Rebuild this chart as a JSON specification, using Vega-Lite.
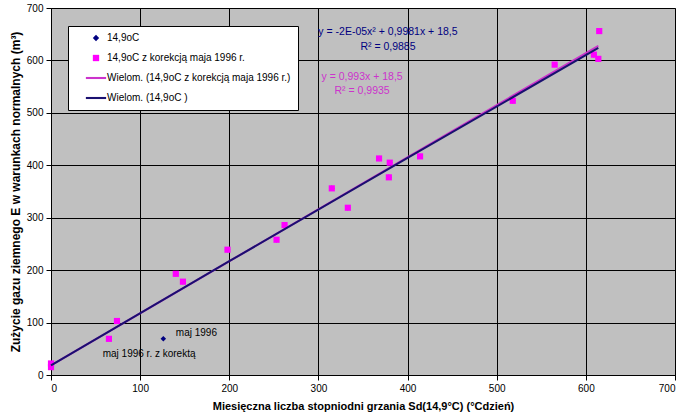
{
  "$schema": "https://vega.github.io/schema/vega-lite/v6.json",
  "autosize": {"type": "none"},
  "width": 624,
  "height": 367,
  "padding": {"left": 51, "top": 8, "right": 11, "bottom": 44},
  "background": "white",
  "datasets": {
    "pts": [
      {"series": "14,9oC", "x": 0, "y": 22},
      {"series": "14,9oC", "x": 0, "y": 15},
      {"series": "14,9oC", "x": 126, "y": 69},
      {"series": "14,9oC", "x": 74, "y": 103},
      {"series": "14,9oC", "x": 140, "y": 193},
      {"series": "14,9oC", "x": 148, "y": 178},
      {"series": "14,9oC", "x": 198, "y": 239},
      {"series": "14,9oC", "x": 253, "y": 258},
      {"series": "14,9oC", "x": 262, "y": 286},
      {"series": "14,9oC", "x": 315, "y": 356},
      {"series": "14,9oC", "x": 333, "y": 319},
      {"series": "14,9oC", "x": 368, "y": 413},
      {"series": "14,9oC", "x": 380, "y": 405},
      {"series": "14,9oC", "x": 379, "y": 377},
      {"series": "14,9oC", "x": 414, "y": 417},
      {"series": "14,9oC", "x": 518, "y": 523},
      {"series": "14,9oC", "x": 565, "y": 592},
      {"series": "14,9oC", "x": 615, "y": 656},
      {"series": "14,9oC", "x": 609, "y": 611},
      {"series": "14,9oC", "x": 614, "y": 603},
      {"series": "14,9oC z korekcją maja 1996 r.", "x": 0, "y": 22},
      {"series": "14,9oC z korekcją maja 1996 r.", "x": 0, "y": 15},
      {"series": "14,9oC z korekcją maja 1996 r.", "x": 65, "y": 69},
      {"series": "14,9oC z korekcją maja 1996 r.", "x": 74, "y": 103},
      {"series": "14,9oC z korekcją maja 1996 r.", "x": 140, "y": 193},
      {"series": "14,9oC z korekcją maja 1996 r.", "x": 148, "y": 178},
      {"series": "14,9oC z korekcją maja 1996 r.", "x": 198, "y": 239},
      {"series": "14,9oC z korekcją maja 1996 r.", "x": 253, "y": 258},
      {"series": "14,9oC z korekcją maja 1996 r.", "x": 262, "y": 286},
      {"series": "14,9oC z korekcją maja 1996 r.", "x": 315, "y": 356},
      {"series": "14,9oC z korekcją maja 1996 r.", "x": 333, "y": 319},
      {"series": "14,9oC z korekcją maja 1996 r.", "x": 368, "y": 413},
      {"series": "14,9oC z korekcją maja 1996 r.", "x": 380, "y": 405},
      {"series": "14,9oC z korekcją maja 1996 r.", "x": 379, "y": 377},
      {"series": "14,9oC z korekcją maja 1996 r.", "x": 414, "y": 417},
      {"series": "14,9oC z korekcją maja 1996 r.", "x": 518, "y": 523},
      {"series": "14,9oC z korekcją maja 1996 r.", "x": 565, "y": 592},
      {"series": "14,9oC z korekcją maja 1996 r.", "x": 615, "y": 656},
      {"series": "14,9oC z korekcją maja 1996 r.", "x": 609, "y": 611},
      {"series": "14,9oC z korekcją maja 1996 r.", "x": 614, "y": 603}
    ],
    "fits": [
      {"series": "Wielom. (14,9oC z korekcją maja 1996 r.)", "x": 0, "y": 18.5},
      {"series": "Wielom. (14,9oC z korekcją maja 1996 r.)", "x": 614, "y": 628},
      {"series": "Wielom. (14,9oC )", "x": 0, "y": 18.5},
      {"series": "Wielom. (14,9oC )", "x": 200, "y": 217},
      {"series": "Wielom. (14,9oC )", "x": 400, "y": 414},
      {"series": "Wielom. (14,9oC )", "x": 614, "y": 624}
    ],
    "notes": [
      {"fit": "navy", "x": 378, "y": 654, "text": "y = -2E-05x² + 0,9981x + 18,5"},
      {"fit": "navy", "x": 378, "y": 626, "text": "R² = 0,9885"},
      {"fit": "magenta", "x": 349, "y": 568, "text": "y = 0,993x + 18,5"},
      {"fit": "magenta", "x": 349, "y": 542, "text": "R² = 0,9935"},
      {"fit": "black", "x": 140, "y": 80, "text": "maj 1996"},
      {"fit": "black", "x": 58, "y": 40, "text": "maj 1996 r. z korektą"}
    ]
  },
  "encoding": {
    "x": {
      "field": "x",
      "type": "quantitative",
      "scale": {"domain": [0, 700], "nice": false, "zero": false},
      "axis": {
        "title": "Miesięczna liczba stopniodni grzania Sd(14,9°C) (°Cdzień)",
        "values": [0, 100, 200, 300, 400, 500, 600, 700],
        "format": "d",
        "titlePadding": 7
      }
    },
    "y": {
      "field": "y",
      "type": "quantitative",
      "scale": {"domain": [0, 700], "nice": false, "zero": false},
      "axis": {
        "title": "Zużycie gazu ziemnego E  w warunkach normalnych (m³)",
        "values": [0, 100, 200, 300, 400, 500, 600, 700],
        "format": "d",
        "titlePadding": 4,
        "titleFontSize": 12
      }
    }
  },
  "layer": [
    {
      "data": {"name": "pts"},
      "transform": [{"filter": "datum.series == '14,9oC'"}],
      "mark": {"type": "point", "filled": true, "opacity": 1, "size": 30},
      "encoding": {
        "color": {
          "field": "series",
          "type": "nominal",
          "scale": {
            "domain": ["14,9oC", "14,9oC z korekcją maja 1996 r.", "Wielom. (14,9oC z korekcją maja 1996 r.)", "Wielom. (14,9oC )"],
            "range": ["#000080", "#FF00FF", "#CC33CC", "#1A1070"]
          },
          "legend": {
            "orient": "none",
            "legendX": 17,
            "legendY": 18,
            "title": null,
            "fillColor": "white",
            "strokeColor": "black",
            "padding": 7,
            "rowPadding": 10,
            "symbolOffset": 16,
            "symbolSize": 40,
            "symbolStrokeWidth": 0,
            "labelFont": "Liberation Sans",
            "labelFontSize": 10,
            "labelColor": "black",
            "labelLimit": 400,
            "labelOffset": 6
          }
        },
        "shape": {
          "field": "series",
          "type": "nominal",
          "scale": {
            "domain": ["14,9oC", "14,9oC z korekcją maja 1996 r.", "Wielom. (14,9oC z korekcją maja 1996 r.)", "Wielom. (14,9oC )"],
            "range": ["diamond", "square", "M-3.2,-0.33H3.2V0.33H-3.2Z", "M-3.2,-0.33H3.2V0.33H-3.2Z"]
          },
          "legend": {
            "orient": "none",
            "legendX": 17,
            "legendY": 18,
            "title": null
          }
        }
      }
    },
    {
      "data": {"name": "pts"},
      "transform": [{"filter": "datum.series != '14,9oC'"}],
      "mark": {"type": "point", "filled": true, "opacity": 1, "size": 38},
      "encoding": {
        "color": {"field": "series", "type": "nominal"},
        "shape": {"field": "series", "type": "nominal"}
      }
    },
    {
      "data": {"name": "fits"},
      "mark": {"type": "line", "strokeWidth": 2},
      "encoding": {
        "color": {"field": "series", "type": "nominal"},
        "order": {"field": "x", "type": "quantitative"}
      }
    },
    {
      "data": {"name": "notes"},
      "transform": [{"filter": "datum.fit == 'navy'"}],
      "mark": {"type": "text", "font": "Liberation Sans", "fontSize": 10.5, "color": "#000080"},
      "encoding": {"text": {"field": "text"}}
    },
    {
      "data": {"name": "notes"},
      "transform": [{"filter": "datum.fit == 'magenta'"}],
      "mark": {"type": "text", "font": "Liberation Sans", "fontSize": 10.5, "color": "#CC33CC"},
      "encoding": {"text": {"field": "text"}}
    },
    {
      "data": {"name": "notes"},
      "transform": [{"filter": "datum.fit == 'black'"}],
      "mark": {"type": "text", "font": "Liberation Sans", "fontSize": 10, "color": "black", "align": "left"},
      "encoding": {"text": {"field": "text"}}
    }
  ],
  "config": {
    "font": "Liberation Sans",
    "view": {"fill": "#C0C0C0", "stroke": "#808080", "strokeWidth": 1},
    "axis": {
      "domainColor": "black",
      "domainWidth": 1,
      "tickColor": "black",
      "tickSize": 5,
      "grid": true,
      "gridColor": "black",
      "gridWidth": 1,
      "gridOpacity": 1,
      "labelFont": "Liberation Sans",
      "labelFontSize": 10,
      "labelColor": "black",
      "labelPadding": 3,
      "titleFont": "Liberation Sans",
      "titleFontSize": 11,
      "titleFontWeight": "bold",
      "titleColor": "black"
    }
  }
}
